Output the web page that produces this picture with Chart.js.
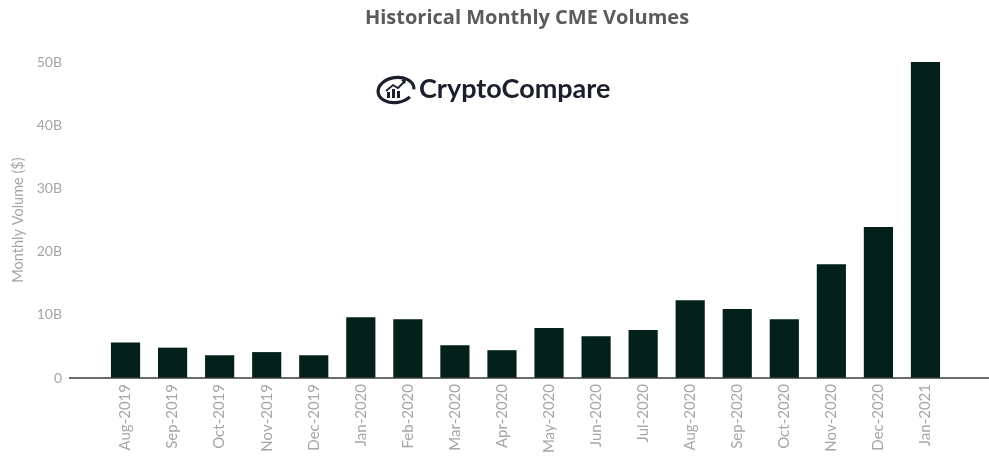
<!DOCTYPE html>
<html>
<head>
<meta charset="utf-8">
<script src="https://cdn.jsdelivr.net/npm/chart.js@4"></script>
<style>
  html, body { margin: 0; padding: 0; background: #fff; }
  #wrap { width: 989px; height: 460px; position: relative; }
</style>
</head>
<body>
<div id="wrap"><canvas id="cmeChart"></canvas></div>
<script>
// ---- data (billions of $) ----
const months = ['Aug-2019','Sep-2019','Oct-2019','Nov-2019','Dec-2019','Jan-2020','Feb-2020','Mar-2020','Apr-2020',
                'May-2020','Jun-2020','Jul-2020','Aug-2020','Sep-2020','Oct-2020','Nov-2020','Dec-2020','Jan-2021'];
const volumes = [5.6, 4.8, 3.6, 4.1, 3.6, 9.6, 9.3, 5.2, 4.4, 7.9, 6.6, 7.6, 12.3, 10.9, 9.3, 18.0, 23.9, 50.0];
const yTicks = [0, 10, 20, 30, 40, 50];

const chartTitle = 'Historical Monthly CME Volumes';
const yTitle = 'Monthly Volume ($)';
const logoText = 'CryptoCompare';

const barColor = '#03201b';
const labelGrey = '#a6a6a6';
const font = 'Lato';

// title + logo + long baseline
const decor = {
    id: 'decor',
    afterDraw(chart) {
        const ctx = chart.ctx;
        const y = chart.scales.y.getPixelForValue(0);
        ctx.save();
        // baseline, runs further than the bars
        ctx.strokeStyle = '#3a3a3a';
        ctx.lineWidth = 1.5;
        ctx.beginPath();
        ctx.moveTo(chart.chartArea.left - 33, y);
        ctx.lineTo(chart.width, y);
        ctx.stroke();

        // title
        ctx.fillStyle = '#5b5b5b';
        ctx.font = 'bold 20px "Open Sans"';
        ctx.textAlign = 'center';
        ctx.textBaseline = 'middle';
        ctx.fillText(chartTitle, 527, 18);

        // logo icon
        ctx.strokeStyle = '#1b1f2b';
        ctx.fillStyle = '#1b1f2b';
        ctx.lineWidth = 3.2;
        ctx.beginPath();
        ctx.ellipse(396, 90, 18, 12.5, -0.15, 0.25 * Math.PI, 2.05 * Math.PI);
        ctx.stroke();
        ctx.fillRect(387, 92, 3, 6);
        ctx.fillRect(392, 89, 3, 9);
        ctx.fillRect(397, 91, 3, 7);
        ctx.lineWidth = 1.8;
        ctx.beginPath();
        ctx.moveTo(386, 91);
        ctx.lineTo(393, 85);
        ctx.lineTo(398, 88);
        ctx.lineTo(405, 81);
        ctx.stroke();
        ctx.beginPath();
        ctx.moveTo(406, 79);
        ctx.lineTo(401, 80);
        ctx.lineTo(405, 84);
        ctx.closePath();
        ctx.fill();

        // logo text
        ctx.font = 'bold 27px ' + font;
        ctx.textAlign = 'left';
        ctx.textBaseline = 'alphabetic';
        ctx.fillText(logoText, 419, 98);
        ctx.restore();
    }
};

new Chart(document.getElementById('cmeChart'), {
    type: 'bar',
    data: {
        labels: months,
        datasets: [{
            label: 'Volume',
            data: volumes,
            backgroundColor: barColor,
            borderWidth: 0,
            categoryPercentage: 1,
            barPercentage: 0.62
        }]
    },
    options: {
        responsive: true,
        maintainAspectRatio: false,
        animation: false,
        layout: { padding: { top: 62, right: 40, left: 0, bottom: 0 } },
        plugins: { legend: { display: false }, tooltip: { enabled: false } },
        scales: {
            x: {
                grid: { display: false, drawTicks: false },
                border: { display: false },
                ticks: {
                    color: labelGrey,
                    font: { family: font, size: 15 },
                    minRotation: 90,
                    maxRotation: 90,
                    padding: 6,
                    autoSkip: false
                },
                afterFit(scale) { scale.height = 82; }
            },
            y: {
                min: 0,
                max: 50,
                afterBuildTicks(scale) { scale.ticks = yTicks.map(v => ({ value: v })); },
                grid: { display: false, drawTicks: false },
                border: { display: false },
                ticks: {
                    color: labelGrey,
                    font: { family: font, size: 14 },
                    padding: 40,
                    callback: v => v === 0 ? '0' : v + 'B'
                },
                title: {
                    display: true,
                    text: yTitle,
                    color: labelGrey,
                    font: { family: font, size: 14.5 },
                    padding: { top: 10, bottom: 0 }
                },
                afterFit(scale) { scale.width = 102; }
            }
        }
    },
    plugins: [decor]
});
</script>
</body>
</html>
